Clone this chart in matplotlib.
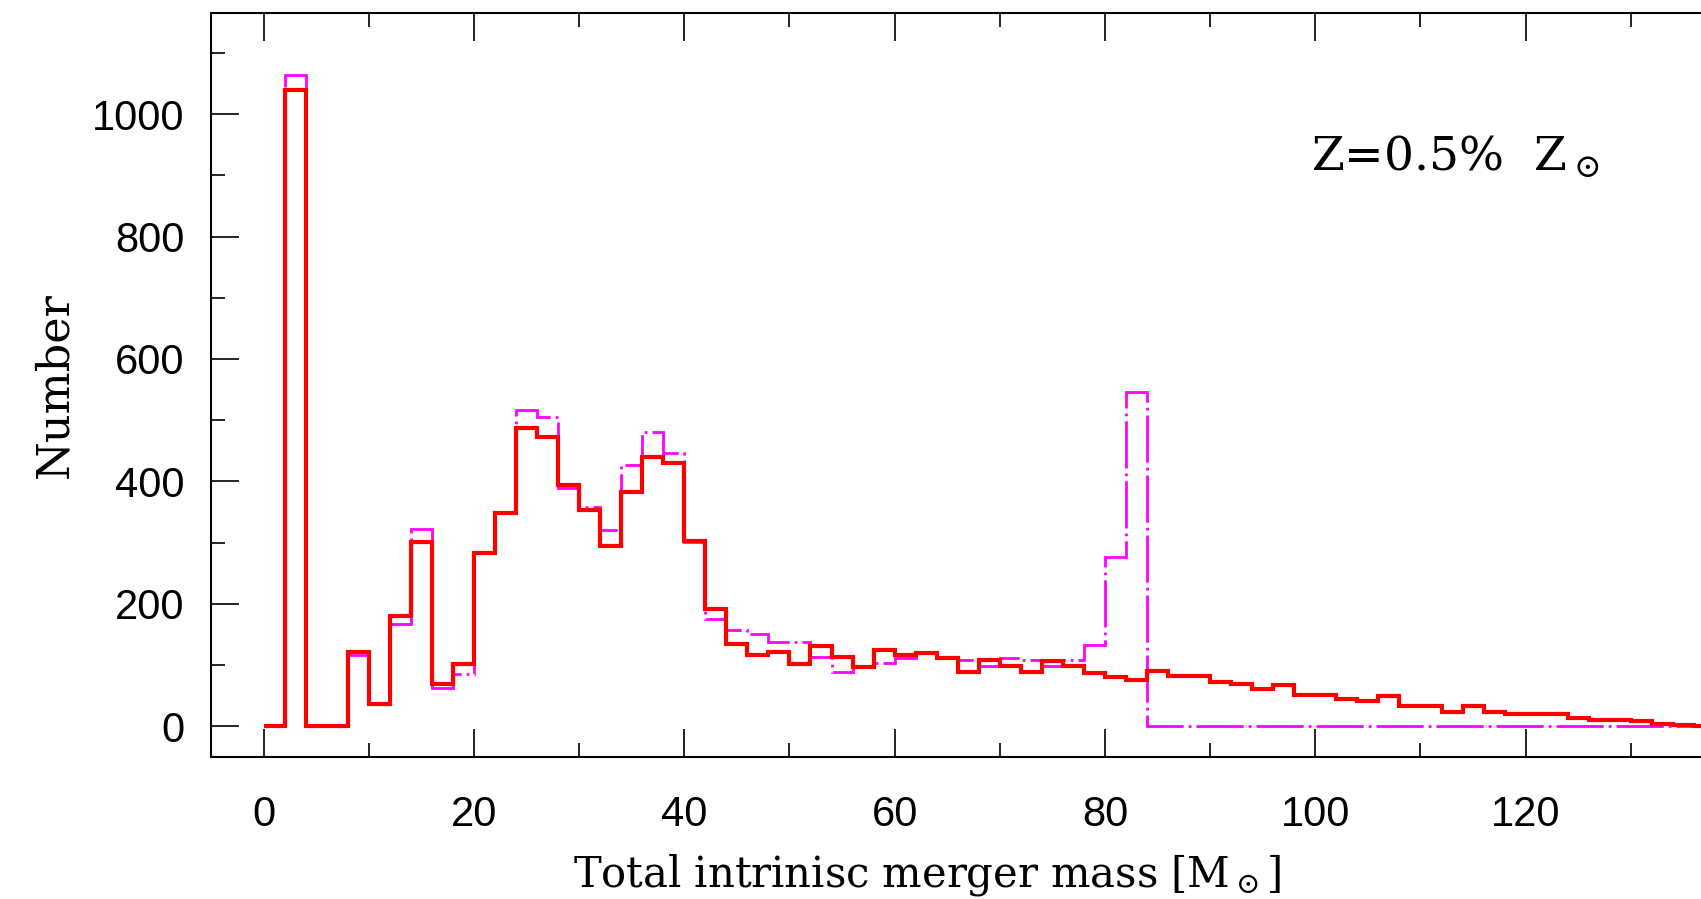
import numpy as np
import matplotlib
matplotlib.use("Agg")
import matplotlib.pyplot as plt
from matplotlib.ticker import MultipleLocator

# bin edges of the mass histogram (2 Msun bins)
edges = np.arange(0, 140, 2)

# red solid histogram
red_counts = [0, 1040, 0, 0, 121, 36, 181, 301, 70, 102,
              283, 348, 487, 472, 395, 354, 295, 383, 440, 430,
              302, 192, 135, 117, 121, 102, 132, 113, 97, 125,
              117, 120, 111, 88, 108, 99, 88, 106, 99, 87,
              80, 76, 91, 82, 82, 72, 69, 61, 68, 52,
              52, 45, 41, 49, 34, 34, 23, 33, 23, 20,
              21, 20, 13, 10, 10, 9, 4, 2, 1]

# magenta dash-dot histogram
mag_counts = [0, 1064, 0, 0, 116, 36, 167, 322, 63, 85,
              283, 350, 516, 506, 389, 359, 321, 427, 480, 447,
              301, 175, 158, 151, 137, 137, 114, 88, 98, 103,
              111, 120, 111, 109, 98, 111, 109, 98, 109, 133,
              277, 546] + [0] * 27

plt.rcParams['lines.scale_dashes'] = False
plt.rcParams['mathtext.fontset'] = 'dejavuserif'

fig = plt.figure(figsize=(17.01, 8.99), dpi=100)
# axes run past the right edge of the picture, like the cropped original
ax = fig.add_axes([211/1701, 142/899, 1525/1701, 744/899])

ax.stairs(mag_counts, edges, color='#ff00ff', lw=2.0,
          linestyle=(0, (34, 3.6, 2, 3.6)))
ax.stairs(red_counts, edges, color='#ff0000', lw=3.0)

ax.set_xlim(-5, 140)
ax.set_ylim(-50, 1165)

ax.xaxis.set_minor_locator(MultipleLocator(10))
ax.yaxis.set_major_locator(MultipleLocator(200))
ax.yaxis.set_minor_locator(MultipleLocator(100))
ax.set_xticks(np.arange(0, 121, 20))
ax.tick_params(which='both', direction='in', top=True, right=True, width=1.2)
ax.tick_params(which='major', length=20)
ax.tick_params(which='minor', length=10)
ax.tick_params(axis='x', pad=27)
ax.tick_params(axis='y', pad=19)
for lab in ax.get_xticklabels() + ax.get_yticklabels():
    lab.set_fontfamily('Liberation Sans')
    lab.set_fontsize(30)
for sp in ax.spines.values():
    sp.set_linewidth(1.5)

ax.set_xlabel(r'Total intrinisc merger mass [M$_\odot$]', family='DejaVu Serif', fontsize=30)
ax.set_ylabel('Number', family='DejaVu Serif', fontsize=32)
ax.xaxis.set_label_coords((927-211)/1525, -0.128)
ax.yaxis.set_label_coords(-(211-76)/1525, 0.5)

ax.text(99.6, 908, r'Z=0.5%  Z$_\odot$', family='DejaVu Serif', fontsize=34,
        va='baseline', ha='left')

fig.savefig('out.png', dpi=100)
